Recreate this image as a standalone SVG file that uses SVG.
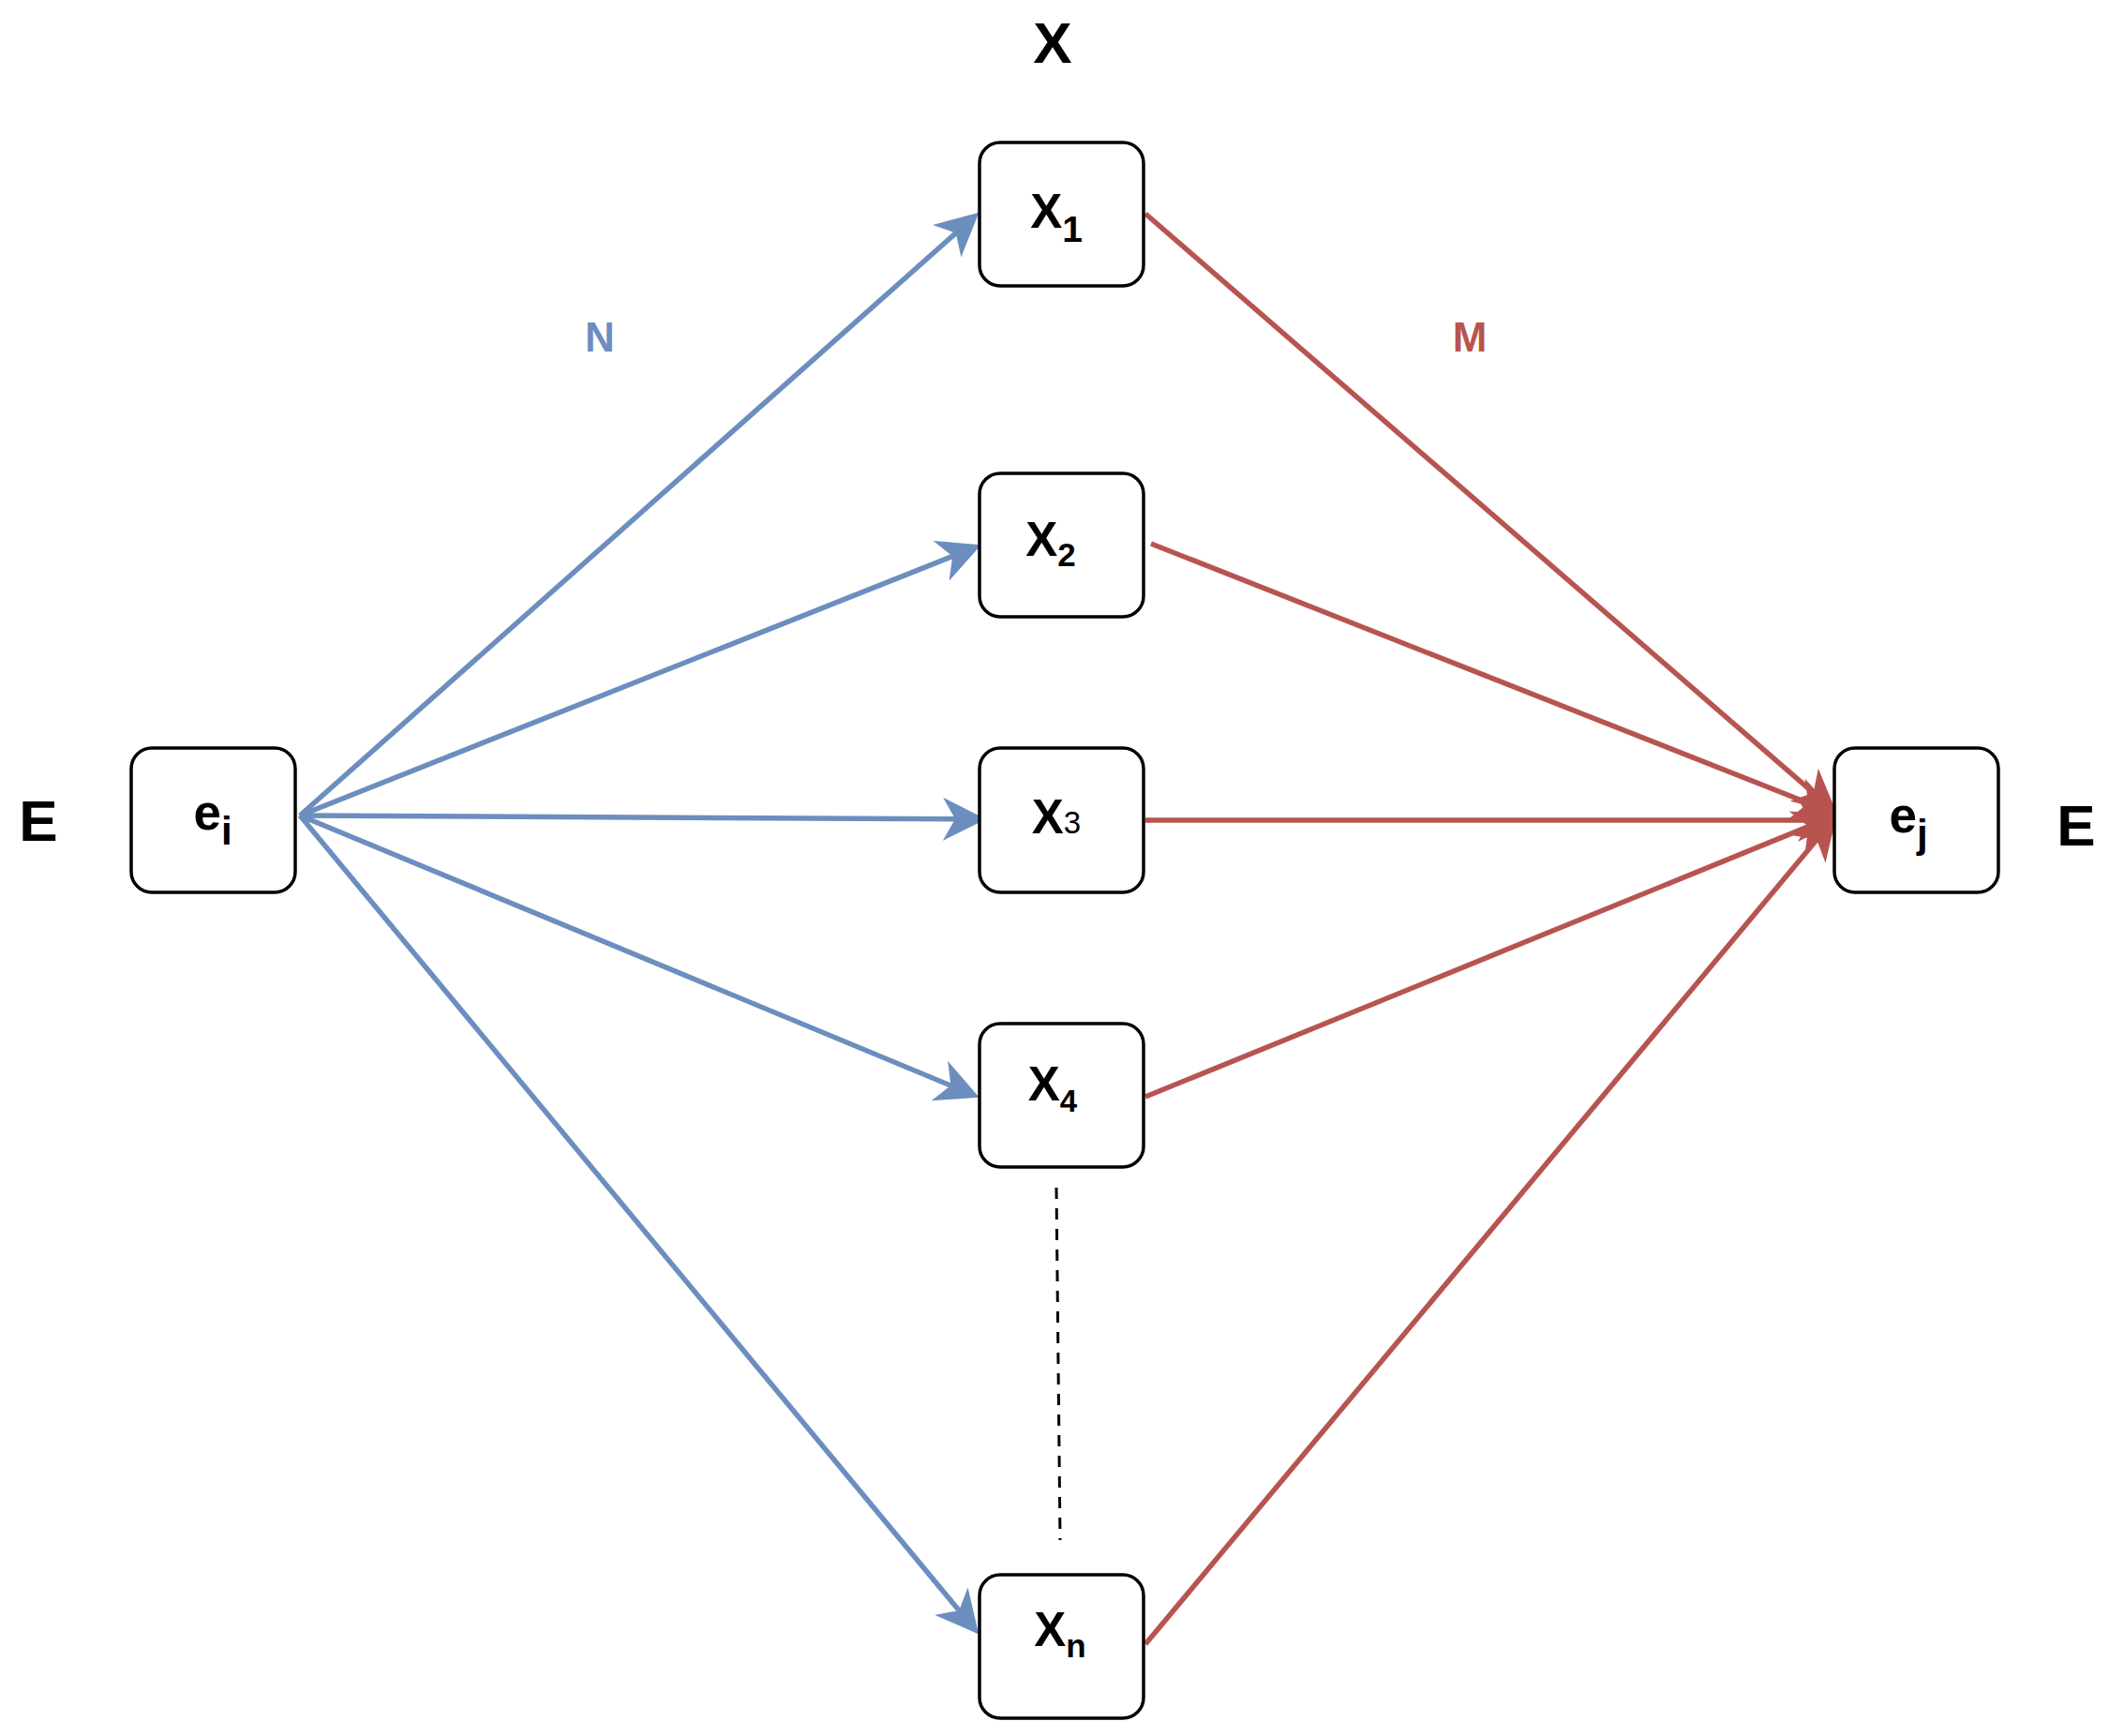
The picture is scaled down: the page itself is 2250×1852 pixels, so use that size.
<svg xmlns="http://www.w3.org/2000/svg" width="2250" height="1852" viewBox="0 0 2250 1852">
<style>
.box{fill:#fff;stroke:#000;stroke-width:3.5}
.t{font-family:"Liberation Sans",Arial,sans-serif;font-weight:bold;fill:#000}
.blue{stroke:#6C8EBF;stroke-width:5.5;fill:none}
.red{stroke:#B85450;stroke-width:5.5;fill:none}
</style>
<defs>
<marker id="ab" markerUnits="userSpaceOnUse" markerWidth="46" markerHeight="46" viewBox="0 0 46 46" refX="24" refY="23" orient="auto">
<path d="M46,23 L0,0 L13,23 L0,46 Z" fill="#6C8EBF"/>
</marker>
<marker id="ar" markerUnits="userSpaceOnUse" markerWidth="46" markerHeight="46" viewBox="0 0 46 46" refX="24" refY="23" orient="auto">
<path d="M46,23 L0,0 L13,23 L0,46 Z" fill="#B85450"/>
</marker>
</defs>
<rect width="2250" height="1852" fill="#fff"/>
<g id="labels">
<text class="t" x="1123" y="67" font-size="62" text-anchor="middle">X</text>
<text class="t" x="41" y="897" font-size="62" text-anchor="middle">E</text>
<text class="t" x="2215" y="902" font-size="62" text-anchor="middle">E</text>
<text class="t" x="640" y="375" font-size="44" text-anchor="middle" style="fill:#6C8EBF">N</text>
<text class="t" x="1568" y="375" font-size="44" text-anchor="middle" style="fill:#B85450">M</text>
</g>
<g id="connectors">
<path class="blue" d="M320,870 L1028,241.3" marker-end="url(#ab)"/>
<path class="blue" d="M320,870 L1026.4,589.4" marker-end="url(#ab)"/>
<path class="blue" d="M320,870 L1030,873.9" marker-end="url(#ab)"/>
<path class="blue" d="M320,870 L1024.5,1162.3" marker-end="url(#ab)"/>
<path class="blue" d="M320,870 L1030.2,1726.6" marker-end="url(#ab)"/>
<path class="red" d="M1222,228 L1942.9,852.9" marker-end="url(#ar)"/>
<path class="red" d="M1228,580 L1939.4,860.7" marker-end="url(#ar)"/>
<path class="red" d="M1222,875 L1942,875" marker-end="url(#ar)"/>
<path class="red" d="M1222,1170 L1939.5,877.6" marker-end="url(#ar)"/>
<path class="red" d="M1222,1754 L1945.2,887.4" marker-end="url(#ar)"/>
<path d="M1127,1267 L1131,1643" stroke="#000" stroke-width="3" stroke-dasharray="12 10" fill="none"/>
</g>
<g id="node-ei">
<rect class="box" x="140" y="798" width="175" height="154" rx="22"/>
<text class="t" x="227" y="885" font-size="53" text-anchor="middle">e<tspan font-size="42" dy="16">i</tspan></text>
</g>
<g id="node-ej">
<rect class="box" x="1957" y="798" width="175" height="154" rx="22"/>
<text class="t" x="2036" y="888" font-size="53" text-anchor="middle">e<tspan font-size="42" dy="16">j</tspan></text>
</g>
<g id="node-x1">
<rect class="box" x="1045" y="152" width="175" height="153" rx="22"/>
<text class="t" x="1127" y="243" font-size="51" text-anchor="middle">X<tspan font-size="39" dy="15">1</tspan></text>
</g>
<g id="node-x2">
<rect class="box" x="1045" y="505" width="175" height="153" rx="22"/>
<text class="t" x="1121" y="593" font-size="51" text-anchor="middle">X<tspan font-size="35" dy="11">2</tspan></text>
</g>
<g id="node-x3">
<rect class="box" x="1045" y="798" width="175" height="154" rx="22"/>
<text class="t" x="1127" y="889" font-size="51" text-anchor="middle">X<tspan font-size="33" font-weight="normal">3</tspan></text>
</g>
<g id="node-x4">
<rect class="box" x="1045" y="1092" width="175" height="153" rx="22"/>
<text class="t" x="1123" y="1174" font-size="51" text-anchor="middle">X<tspan font-size="33" dy="12">4</tspan></text>
</g>
<g id="node-xn">
<rect class="box" x="1045" y="1680" width="175" height="153" rx="22"/>
<text class="t" x="1131" y="1756" font-size="51" text-anchor="middle">X<tspan font-size="35" dy="12">n</tspan></text>
</g>
</svg>
